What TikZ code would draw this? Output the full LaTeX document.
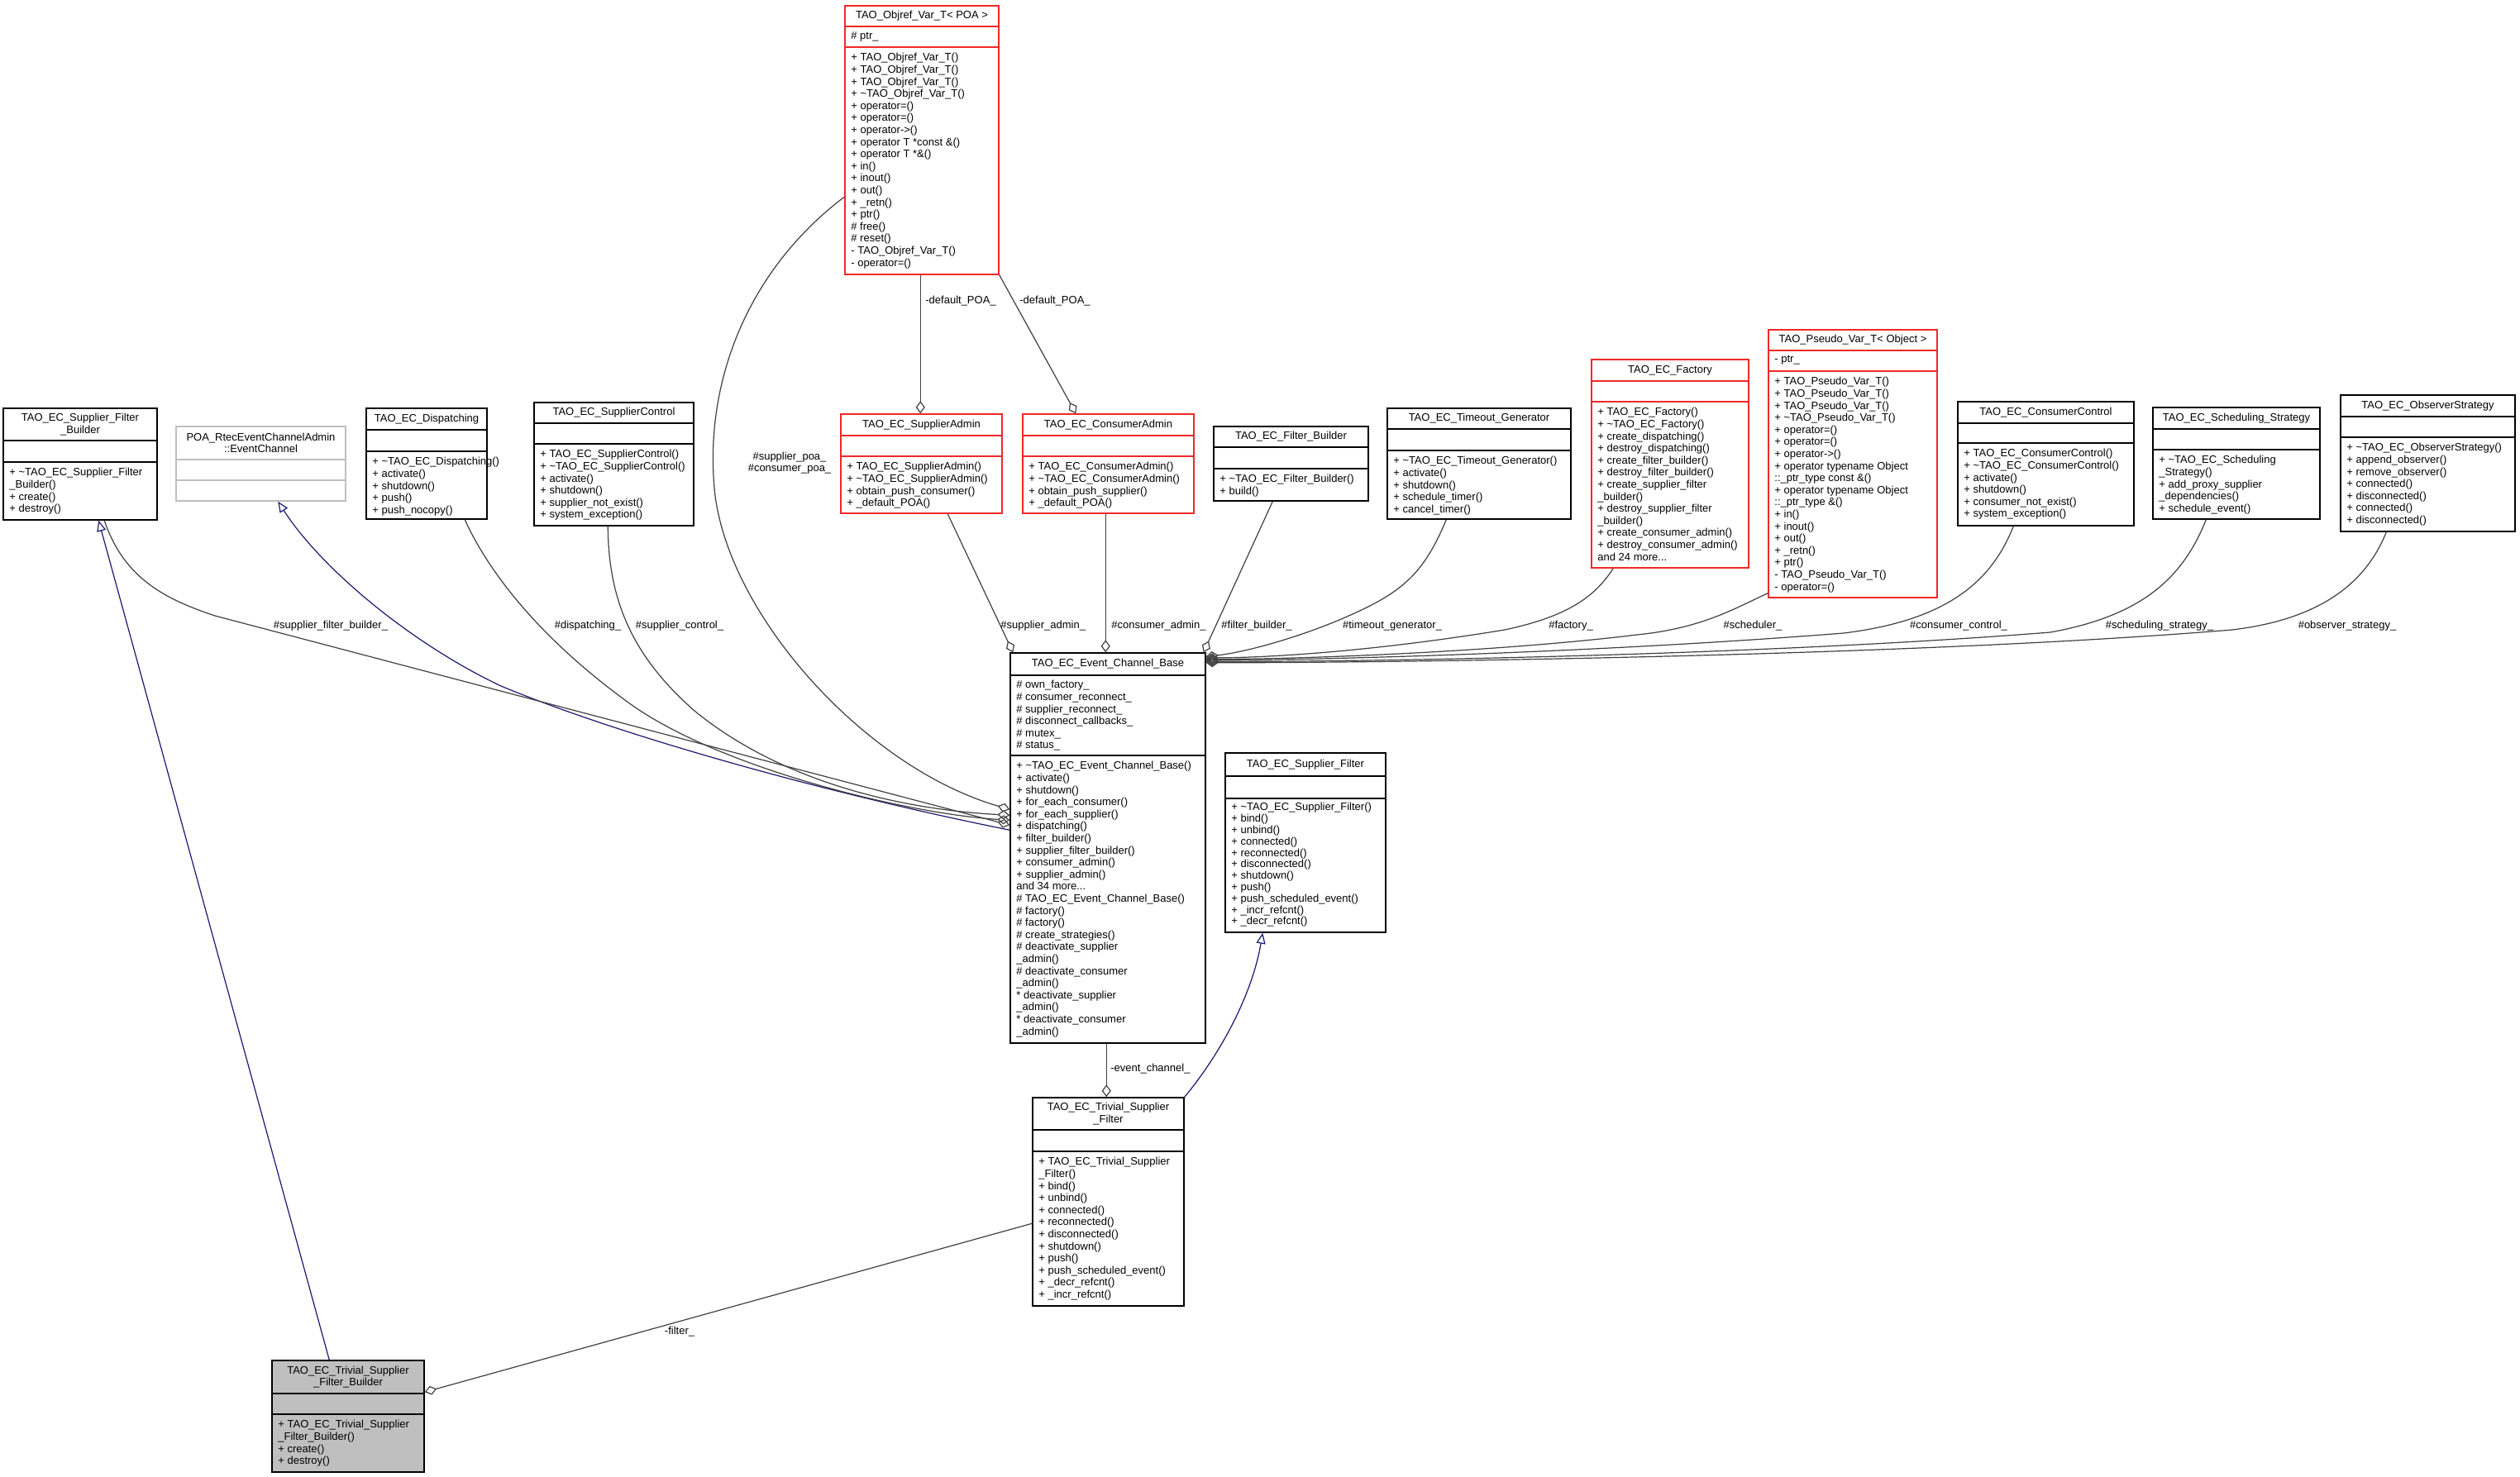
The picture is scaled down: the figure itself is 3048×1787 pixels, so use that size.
\documentclass[tikz,border=0pt]{standalone}
\usepackage{fontspec}
\setmainfont{Liberation Sans}
\usetikzlibrary{arrows.meta,fit,calc}
\definecolor{boxred}{RGB}{240,40,40}
\definecolor{poagrey}{RGB}{191,191,191}
\definecolor{fillgrey}{RGB}{191,191,191}
\definecolor{navyblue}{RGB}{25,25,112}
\definecolor{edgegrey}{RGB}{64,64,64}
% #1 name, #2 colour, #3 x1, #4 y1, #5 x2, #6 y2, #7 header line, #8 attribute line, #9 title
\newcommand\umlcls[9]{%
  \node[fit={(#3,#4) (#5,#6)}, inner sep=0pt, draw=#2, boxline] (#1) {};
  \draw[draw=#2, boxline] (#3,#7) -- (#5,#7) (#3,#8) -- (#5,#8);
  \node[txt, align=center] (#1-t) at ({(#3+#5)/2},{(#4+#7)/2}) {#9};
}
\newcommand\tl{\textasciitilde}
\begin{document}
\begin{tikzpicture}[x=0.5pt,y=-0.5pt,
  txt/.style={font=\fontsize{6.5}{7.3}\selectfont, inner sep=0pt, align=left},
  tighttxt/.style={font=\fontsize{6.5}{6.9}\selectfont, inner sep=0pt, align=left},
  lbl/.style={font=\fontsize{6.5}{7.3}\selectfont, inner sep=0pt, align=center},
  boxline/.style={line width=0.75pt},
  inh/.style={draw=navyblue, line width=0.6pt, -{Triangle[open, length=6.5pt, width=5.5pt]}},
  agg/.style={draw=edgegrey, line width=0.6pt, -{Diamond[open, length=7.5pt, width=5.5pt]}}]
\fill[white] (0,0) rectangle (3048,1787);
\useasboundingbox (0,0) rectangle (3048,1787);

% ---------------- classes ----------------
\umlcls{objref}{boxred}{1022}{7}{1208}{332}{32}{57}{TAO\_Objref\_Var\_T< POA >}
\node[txt, anchor=north west] (objref-a) at (1029,38) {\# ptr\_};
\node[txt, anchor=north west] (objref-m) at (1029,64) {+ TAO\_Objref\_Var\_T()\\+ TAO\_Objref\_Var\_T()\\+ TAO\_Objref\_Var\_T()\\+ \tl TAO\_Objref\_Var\_T()\\+ operator=()\\+ operator=()\\+ operator->()\\+ operator T *const \&()\\+ operator T *\&()\\+ in()\\+ inout()\\+ out()\\+ \_retn()\\+ ptr()\\\# free()\\\# reset()\\- TAO\_Objref\_Var\_T()\\- operator=()};

\umlcls{sfb}{black}{4}{494}{190}{629}{533}{559}{TAO\_EC\_Supplier\_Filter\\\_Builder}
\node[txt, anchor=north west] (sfb-m) at (11,566) {+ \tl TAO\_EC\_Supplier\_Filter\\\_Builder()\\+ create()\\+ destroy()};

\umlcls{poa}{poagrey}{213}{516}{418}{606}{556}{581}{POA\_RtecEventChannelAdmin\\::EventChannel}

\umlcls{disp}{black}{443}{494}{589}{628}{520}{546}{TAO\_EC\_Dispatching}
\node[txt, anchor=north west] (disp-m) at (450,553) {+ \tl TAO\_EC\_Dispatching()\\+ activate()\\+ shutdown()\\+ push()\\+ push\_nocopy()};

\umlcls{supctl}{black}{646}{487}{839}{636}{512}{537}{TAO\_EC\_SupplierControl}
\node[txt, anchor=north west] (supctl-m) at (653,544) {+ TAO\_EC\_SupplierControl()\\+ \tl TAO\_EC\_SupplierControl()\\+ activate()\\+ shutdown()\\+ supplier\_not\_exist()\\+ system\_exception()};

\umlcls{supadm}{boxred}{1017}{501}{1212}{621}{527}{552}{TAO\_EC\_SupplierAdmin}
\node[txt, anchor=north west] (supadm-m) at (1024,559) {+ TAO\_EC\_SupplierAdmin()\\+ \tl TAO\_EC\_SupplierAdmin()\\+ obtain\_push\_consumer()\\+ \_default\_POA()};

\umlcls{conadm}{boxred}{1237}{501}{1444}{621}{527}{552}{TAO\_EC\_ConsumerAdmin}
\node[txt, anchor=north west] (conadm-m) at (1244,559) {+ TAO\_EC\_ConsumerAdmin()\\+ \tl TAO\_EC\_ConsumerAdmin()\\+ obtain\_push\_supplier()\\+ \_default\_POA()};

\umlcls{fb}{black}{1468}{516}{1655}{606}{541}{567}{TAO\_EC\_Filter\_Builder}
\node[txt, anchor=north west] (fb-m) at (1475,574) {+ \tl TAO\_EC\_Filter\_Builder()\\+ build()};

\umlcls{tg}{black}{1678}{494}{1900}{628}{519}{545}{TAO\_EC\_Timeout\_Generator}
\node[txt, anchor=north west] (tg-m) at (1685,552) {+ \tl TAO\_EC\_Timeout\_Generator()\\+ activate()\\+ shutdown()\\+ schedule\_timer()\\+ cancel\_timer()};

\umlcls{fac}{boxred}{1925}{435}{2115}{687}{461}{486}{TAO\_EC\_Factory}
\node[txt, anchor=north west] (fac-m) at (1932,493) {+ TAO\_EC\_Factory()\\+ \tl TAO\_EC\_Factory()\\+ create\_dispatching()\\+ destroy\_dispatching()\\+ create\_filter\_builder()\\+ destroy\_filter\_builder()\\+ create\_supplier\_filter\\\_builder()\\+ destroy\_supplier\_filter\\\_builder()\\+ create\_consumer\_admin()\\+ destroy\_consumer\_admin()\\and 24 more...};

\umlcls{pvt}{boxred}{2139}{399}{2343}{723}{424}{449}{TAO\_Pseudo\_Var\_T< Object >}
\node[txt, anchor=north west] (pvt-a) at (2146,430) {- ptr\_};
\node[txt, anchor=north west] (pvt-m) at (2146,456) {+ TAO\_Pseudo\_Var\_T()\\+ TAO\_Pseudo\_Var\_T()\\+ TAO\_Pseudo\_Var\_T()\\+ \tl TAO\_Pseudo\_Var\_T()\\+ operator=()\\+ operator=()\\+ operator->()\\+ operator typename Object\\::\_ptr\_type const \&()\\+ operator typename Object\\::\_ptr\_type \&()\\+ in()\\+ inout()\\+ out()\\+ \_retn()\\+ ptr()\\- TAO\_Pseudo\_Var\_T()\\- operator=()};

\umlcls{cc}{black}{2368}{486}{2581}{636}{512}{536}{TAO\_EC\_ConsumerControl}
\node[txt, anchor=north west] (cc-m) at (2375,543) {+ TAO\_EC\_ConsumerControl()\\+ \tl TAO\_EC\_ConsumerControl()\\+ activate()\\+ shutdown()\\+ consumer\_not\_exist()\\+ system\_exception()};

\umlcls{ss}{black}{2604}{493}{2806}{628}{519}{544}{TAO\_EC\_Scheduling\_Strategy}
\node[txt, anchor=north west] (ss-m) at (2611,551) {+ \tl TAO\_EC\_Scheduling\\\_Strategy()\\+ add\_proxy\_supplier\\\_dependencies()\\+ schedule\_event()};

\umlcls{os}{black}{2831}{478}{3042}{643}{504}{529}{TAO\_EC\_ObserverStrategy}
\node[txt, anchor=north west] (os-m) at (2838,536) {+ \tl TAO\_EC\_ObserverStrategy()\\+ append\_observer()\\+ remove\_observer()\\+ connected()\\+ disconnected()\\+ connected()\\+ disconnected()};

\umlcls{ecb}{black}{1222}{790}{1458}{1262}{817}{914}{TAO\_EC\_Event\_Channel\_Base}
\node[txt, anchor=north west] (ecb-a) at (1229,823) {\# own\_factory\_\\\# consumer\_reconnect\_\\\# supplier\_reconnect\_\\\# disconnect\_callbacks\_\\\# mutex\_\\\# status\_};
\node[txt, anchor=north west] (ecb-m) at (1229,921) {+ \tl TAO\_EC\_Event\_Channel\_Base()\\+ activate()\\+ shutdown()\\+ for\_each\_consumer()\\+ for\_each\_supplier()\\+ dispatching()\\+ filter\_builder()\\+ supplier\_filter\_builder()\\+ consumer\_admin()\\+ supplier\_admin()\\and 34 more...\\\# TAO\_EC\_Event\_Channel\_Base()\\\# factory()\\\# factory()\\\# create\_strategies()\\\# deactivate\_supplier\\\_admin()\\\# deactivate\_consumer\\\_admin()\\* deactivate\_supplier\\\_admin()\\* deactivate\_consumer\\\_admin()};

\umlcls{sf}{black}{1482}{911}{1676}{1128}{939}{966}{TAO\_EC\_Supplier\_Filter}
\node[tighttxt, anchor=north west] (sf-m) at (1489,971) {+ \tl TAO\_EC\_Supplier\_Filter()\\+ bind()\\+ unbind()\\+ connected()\\+ reconnected()\\+ disconnected()\\+ shutdown()\\+ push()\\+ push\_scheduled\_event()\\+ \_incr\_refcnt()\\+ \_decr\_refcnt()};

\umlcls{tsf}{black}{1249}{1328}{1432}{1580}{1367}{1393}{TAO\_EC\_Trivial\_Supplier\\\_Filter}
\node[txt, anchor=north west] (tsf-m) at (1256,1400) {+ TAO\_EC\_Trivial\_Supplier\\\_Filter()\\+ bind()\\+ unbind()\\+ connected()\\+ reconnected()\\+ disconnected()\\+ shutdown()\\+ push()\\+ push\_scheduled\_event()\\+ \_decr\_refcnt()\\+ \_incr\_refcnt()};

\fill[fillgrey] (329,1646) rectangle (513,1781);
\umlcls{tsfb}{black}{329}{1646}{513}{1781}{1686}{1711}{TAO\_EC\_Trivial\_Supplier\\\_Filter\_Builder}
\node[txt, anchor=north west] (tsfb-m) at (336,1718) {+ TAO\_EC\_Trivial\_Supplier\\\_Filter\_Builder()\\+ create()\\+ destroy()};

% ---------------- inheritance ----------------
\draw[inh] ($(tsfb.north west)+(70,0)$) -- ($(sfb.south west)+(116,0)$);
\draw[inh] ($(ecb.north west)+(0,215)$) .. controls (1000,960) and (750,890) .. (606,830)
  .. controls (500,780) and (390,690) .. ($(poa.south west)+(124,0)$);
\draw[inh] (tsf.north east) .. controls (1480,1270) and (1515,1200) .. ($(sf.south west)+(46,0)$);

% ---------------- aggregation (left) ----------------
\draw[agg] ($(sfb.south west)+(123,0)$) .. controls (150,700) and (200,725) .. (260,745) -- ($(ecb.north west)+(0,209)$);
\draw[agg] ($(disp.south west)+(120,0)$) .. controls (590,690) and (650,770) .. (760,850)
  .. controls (870,930) and (1100,985) .. ($(ecb.north west)+(0,203)$);
\draw[agg] ($(supctl.south west)+(90,0)$) .. controls (736,720) and (760,790) .. (840,860)
  .. controls (950,950) and (1100,980) .. ($(ecb.north west)+(0,197)$);
\draw[agg] ($(objref.north west)+(0,232)$) .. controls (900,330) and (850,470) .. (865,600)
  .. controls (885,750) and (1050,930) .. ($(ecb.north west)+(0,190)$);

% ---------------- aggregation (top) ----------------
\draw[agg] ($(objref.south west)+(92,0)$) -- ($(supadm.north west)+(97,0)$);
\draw[agg] (objref.south east) -- ($(conadm.north west)+(65,0)$);
\draw[agg] ($(supadm.south west)+(130,0)$) -- ($(ecb.north west)+(4,0)$);
\draw[agg] ($(conadm.south west)+(101,0)$) -- ($(ecb.north west)+(116,0)$);
\draw[agg] ($(fb.south west)+(72,0)$) -- ($(ecb.north east)+(-3,0)$);

% ---------------- aggregation (right) ----------------
\draw[agg] ($(tg.south west)+(72,0)$) .. controls (1720,700) and (1690,720) .. (1620,750)
  .. controls (1560,775) and (1500,790) .. ($(ecb.north east)+(0,5)$);
\draw[agg] ($(fac.south west)+(27,0)$) .. controls (1930,720) and (1900,745) .. (1820,762)
  .. controls (1650,790) and (1520,796) .. ($(ecb.north east)+(0,6.5)$);
\draw[agg] ($(pvt.south west)+(0,-6)$) .. controls (2100,735) and (2060,760) .. (1980,768)
  .. controls (1800,790) and (1550,798) .. ($(ecb.north east)+(0,8)$);
\draw[agg] ($(cc.south west)+(68,0)$) .. controls (2410,700) and (2360,750) .. (2230,766)
  .. controls (1900,792) and (1550,799) .. ($(ecb.north east)+(0,9.5)$);
\draw[agg] ($(ss.south west)+(65,0)$) .. controls (2640,700) and (2590,745) .. (2480,765)
  .. controls (2100,795) and (1600,801) .. ($(ecb.north east)+(0,11)$);
\draw[agg] ($(os.south west)+(56,0)$) .. controls (2860,710) and (2800,750) .. (2700,762)
  .. controls (2300,795) and (1650,802) .. ($(ecb.north east)+(0,12.5)$);

% ---------------- aggregation (bottom) ----------------
\draw[agg] ($(ecb.south west)+(117,0)$) -- ($(tsf.north west)+(90,0)$);
\draw[agg] ($(tsf.north west)+(0,153)$) -- ($(tsfb.north east)+(0,39)$);

% ---------------- labels ----------------
\node[lbl] (l-sfb) at (400,757) {\#supplier\_filter\_builder\_};
\node[lbl] (l-disp) at (711,757) {\#dispatching\_};
\node[lbl] (l-supctl) at (822,757) {\#supplier\_control\_};
\node[lbl] (l-poa) at (955,560) {\#supplier\_poa\_\\\#consumer\_poa\_};
\node[lbl, anchor=west] (l-dpoa1) at (1119,364) {-default\_POA\_};
\node[lbl, anchor=west] (l-dpoa2) at (1233,364) {-default\_POA\_};
\node[lbl, anchor=west] (l-supadm) at (1210,757) {\#supplier\_admin\_};
\node[lbl, anchor=west] (l-conadm) at (1344,757) {\#consumer\_admin\_};
\node[lbl, anchor=west] (l-fb) at (1477,757) {\#filter\_builder\_};
\node[lbl] (l-tg) at (1684,757) {\#timeout\_generator\_};
\node[lbl] (l-fac) at (1900,757) {\#factory\_};
\node[lbl] (l-pvt) at (2120,757) {\#scheduler\_};
\node[lbl] (l-cc) at (2369,757) {\#consumer\_control\_};
\node[lbl] (l-ss) at (2612,757) {\#scheduling\_strategy\_};
\node[lbl] (l-os) at (2839,757) {\#observer\_strategy\_};
\node[lbl, anchor=west] (l-ec) at (1343,1293) {-event\_channel\_};
\node[lbl] (l-filter) at (822,1611) {-filter\_};
\end{tikzpicture}
\end{document}
